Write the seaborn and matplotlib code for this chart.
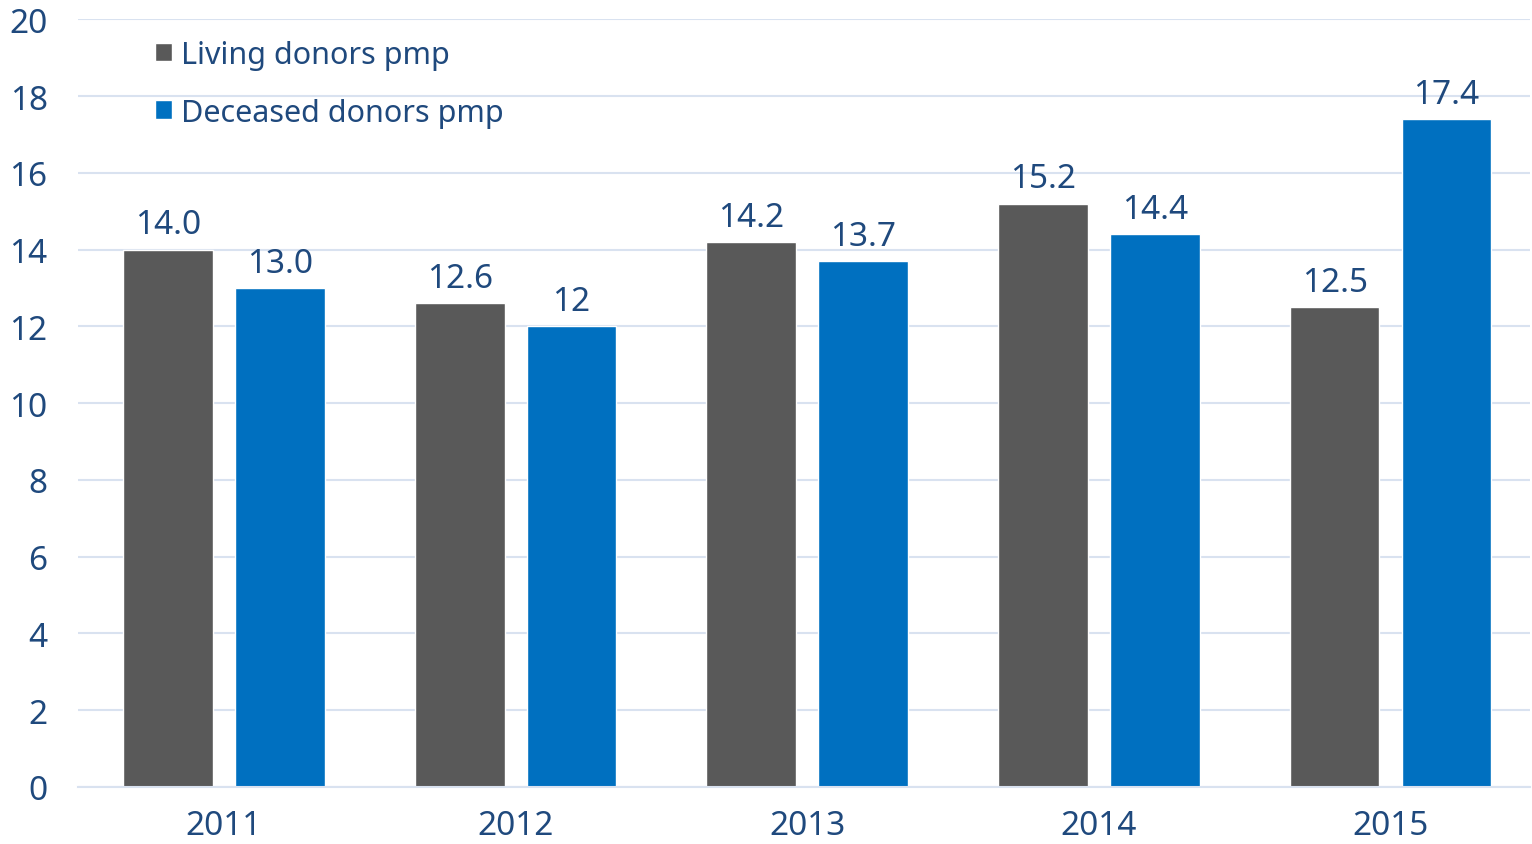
import pandas as pd
import matplotlib.pyplot as plt
import seaborn as sns

# Data
years = ['2011', '2012', '2013', '2014', '2015']
living = [14.0, 12.6, 14.2, 15.2, 12.5]
deceased = [13.0, 12.0, 13.7, 14.4, 17.4]
living_labels = ['14.0', '12.6', '14.2', '15.2', '12.5']
deceased_labels = ['13.0', '12', '13.7', '14.4', '17.4']
series = ['Living donors pmp', 'Deceased donors pmp']

data = pd.DataFrame({
    'Year': years * 2,
    'Value': living + deceased,
    'Series': [series[0]] * len(years) + [series[1]] * len(years),
})

sns.set_style('white')
plt.rcParams['font.family'] = ['Noto Sans', 'DejaVu Sans']

text_color = '#1f497d'
grid_color = '#d9e2f0'
colors = {series[0]: '#595959', series[1]: '#0070c0'}
fs = 24

fig = plt.figure(figsize=(15.32, 8.45), dpi=100)
ax = fig.add_axes([0.051, 0.0675, 0.948, 0.9085])

sns.barplot(data=data, x='Year', y='Value', hue='Series', palette=colors,
            width=0.767, gap=0.198, ax=ax, saturation=1)

# Value labels
for container, labels in zip(ax.containers, [living_labels, deceased_labels]):
    ax.bar_label(container, labels=labels, padding=6, fontsize=fs, color=text_color)

ax.set_ylim(0, 20)
ax.set_xlim(-0.5, 4.48)
ax.set_yticks(range(0, 21, 2))
ax.yaxis.grid(True, color=grid_color, linewidth=1.5)
ax.set_axisbelow(True)
ax.set_xlabel('')
ax.set_ylabel('')

for side in ['top', 'right', 'left']:
    ax.spines[side].set_visible(False)
ax.spines['bottom'].set_color(grid_color)
ax.spines['bottom'].set_linewidth(1.5)

ax.tick_params(axis='both', length=0, labelsize=fs, labelcolor=text_color)
ax.tick_params(axis='y', pad=22)
ax.tick_params(axis='x', pad=16)

leg = ax.legend(loc='upper left', bbox_to_anchor=(0.053, 0.973), frameon=False,
                fontsize=22, handlelength=0.55, handleheight=0.55, handletextpad=0.3,
                labelspacing=0.9, borderaxespad=0, borderpad=0, labelcolor=text_color)

fig.savefig('out.png', dpi=100)
